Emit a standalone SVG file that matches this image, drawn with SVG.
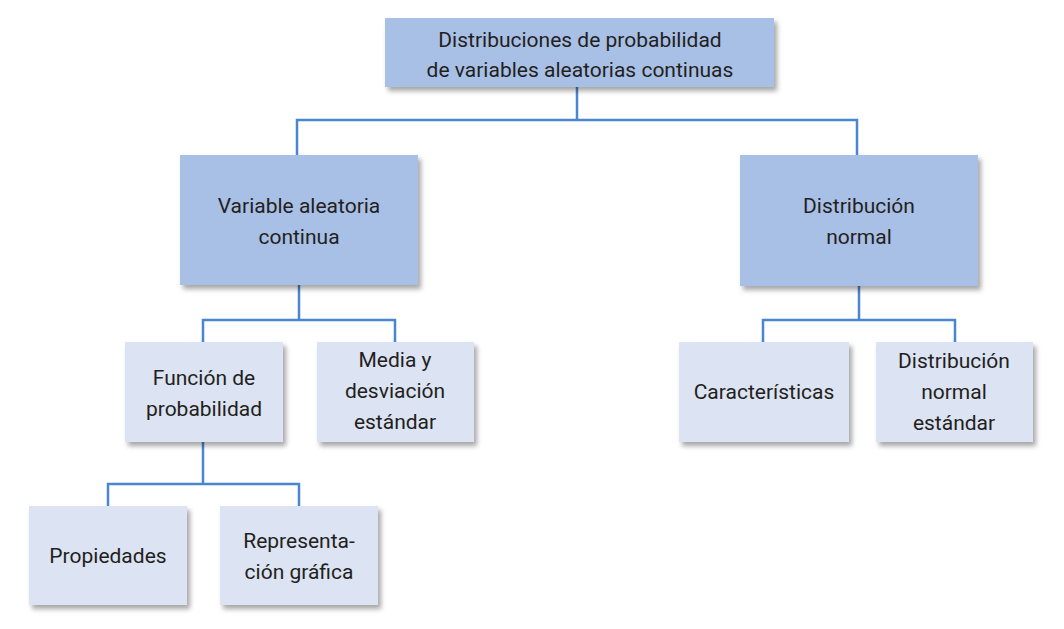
<svg xmlns="http://www.w3.org/2000/svg" width="1064" height="629" viewBox="0 0 1064 629">
<defs>
<filter id="sh" x="-10%" y="-10%" width="125%" height="130%">
<feDropShadow dx="3" dy="4" stdDeviation="2.5" flood-color="#000" flood-opacity="0.35"/>
</filter>
</defs>
<style>
.dark{fill:#a8bfe6;filter:url(#sh)}
.light{fill:#dce3f3;filter:url(#sh)}
.t{font-family:Roboto,"Liberation Sans",sans-serif;font-size:21px;fill:#231f20;text-anchor:middle}
.c{fill:none;stroke:#4a86d0;stroke-width:2.5}
</style>
<rect width="1064" height="629" fill="#fff"/>
<g id="connectors">
<path class="c" d="M577 87V120M297 155V120H857V155"/>
<path class="c" d="M299 285V320M203 342V320H395V342"/>
<path class="c" d="M203 442V484M108 506V484H299V506"/>
<path class="c" d="M859 286V320M763 342V320H955V342"/>
</g>
<g id="root">
<rect class="dark" x="385" y="18" width="389" height="69"/>
<text class="t" x="580" y="47">Distribuciones de probabilidad</text>
<text class="t" x="580" y="77">de variables aleatorias continuas</text>
</g>
<g id="variable">
<rect class="dark" x="180" y="155" width="238" height="130"/>
<text class="t" x="299" y="213">Variable aleatoria</text>
<text class="t" x="299" y="244">continua</text>
</g>
<g id="normal">
<rect class="dark" x="740" y="155" width="238" height="131"/>
<text class="t" x="859" y="213">Distribución</text>
<text class="t" x="859" y="244">normal</text>
</g>
<g id="funcion">
<rect class="light" x="125" y="342" width="158" height="100"/>
<text class="t" x="204" y="385">Función de</text>
<text class="t" x="204" y="416">probabilidad</text>
</g>
<g id="media">
<rect class="light" x="317" y="342" width="157" height="100"/>
<text class="t" x="395" y="367">Media y</text>
<text class="t" x="395" y="398">desviación</text>
<text class="t" x="395" y="429">estándar</text>
</g>
<g id="caracteristicas">
<rect class="light" x="679" y="342" width="170" height="100"/>
<text class="t" x="764" y="399">Características</text>
</g>
<g id="estandar">
<rect class="light" x="876" y="342" width="157" height="100"/>
<text class="t" x="954" y="368">Distribución</text>
<text class="t" x="954" y="399">normal</text>
<text class="t" x="954" y="430">estándar</text>
</g>
<g id="propiedades">
<rect class="light" x="29" y="506" width="158" height="99"/>
<text class="t" x="108" y="563">Propiedades</text>
</g>
<g id="representacion">
<rect class="light" x="220" y="506" width="158" height="99"/>
<text class="t" x="299" y="548">Representa-</text>
<text class="t" x="299" y="579">ción gráfica</text>
</g>
</svg>
